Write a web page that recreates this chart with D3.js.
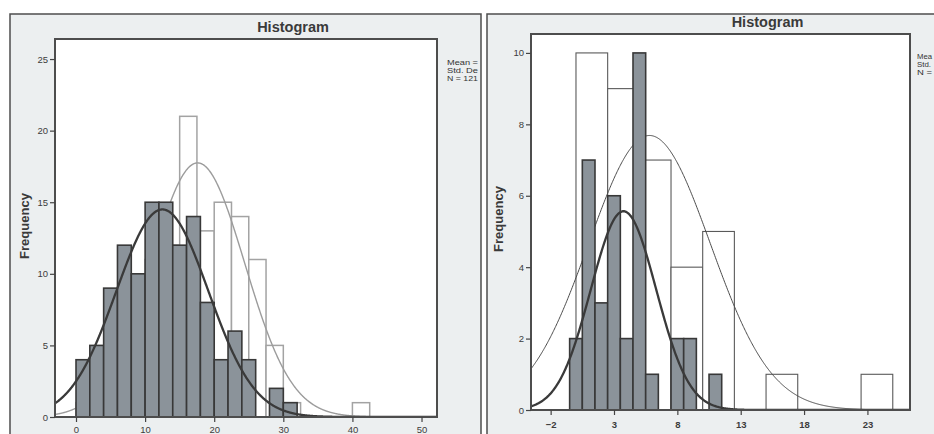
<!DOCTYPE html>
<html>
<head>
<meta charset="utf-8">
<script src="https://cdn.jsdelivr.net/npm/d3@7"></script>
<style>
  body { margin: 0; background: #fff; }
  svg text { font-family: "Liberation Sans", Arial, sans-serif; }
</style>
</head>
<body>
<div id="chart"></div>
<script>
// Left histogram: dark bins are 2 wide from 0, open bins are 2.5 wide from 0
const leftDarkStart = 0, leftDarkWidth = 2;
const leftDarkCounts = [4, 5, 9, 12, 10, 15, 15, 12, 14, 8, 4, 6, 4, 0, 2, 1];
const leftOpenStart = 0, leftOpenWidth = 2.5;
const leftOpenCounts = [1, 2, 4, 8, 11, 12, 21, 13, 15, 14, 11, 5, 1, 0, 0, 0, 1];
const leftDarkFit = { mean: 12.5, sd: 6.66, n: 121 };
const leftOpenFit = { mean: 17.6, sd: 6.8, n: 121 };
const leftXTicks = [0, 10, 20, 30, 40, 50];
const leftYTicks = [0, 5, 10, 15, 20, 25];
// only the part of the legend that shows before the frame cuts it
const leftLegend = ["Mean =", "Std. De", "N = 121"];

// Right histogram: dark bins are 1 wide centred on integers, open bins 2.5 wide from 0
const rightDarkStart = -0.5, rightDarkWidth = 1;
const rightDarkCounts = [2, 7, 3, 6, 2, 10, 1, 0, 2, 2, 0, 1];
const rightOpenStart = 0, rightOpenWidth = 2.5;
const rightOpenCounts = [10, 9, 7, 4, 5, 0, 1, 0, 0, 1];
const rightDarkFit = { mean: 3.75, sd: 2.58, n: 36 };
const rightOpenFit = { mean: 5.8, sd: 4.8, n: 37 };
const rightXTicks = [-2, 3, 8, 13, 18, 23];
const rightYTicks = [0, 2, 4, 6, 8, 10];
const rightLegend = ["Mea", "Std.", "N ="];

const width = 934, height = 434;
const svg = d3.select("#chart").append("svg")
    .attr("width", width)
    .attr("height", height);

function toBins(start, w, counts) {
    return counts.map((c, i) => ({ x0: start + i * w, x1: start + (i + 1) * w, count: c }));
}

function normalCurve(fit, binWidth, domain) {
    const k = fit.n * binWidth / (fit.sd * Math.sqrt(2 * Math.PI));
    return d3.range(domain[0], domain[1] + 0.05, 0.05)
        .map(v => [v, k * Math.exp(-0.5 * ((v - fit.mean) / fit.sd) ** 2)]);
}

function drawPanel(p) {
    const g = svg.append("g");

    // outer grey frame
    g.append("rect")
        .attr("x", p.frame[0]).attr("y", p.frame[1])
        .attr("width", p.frame[2]).attr("height", p.frame[3])
        .attr("fill", "#eceff0")
        .attr("stroke", "#4d4d4d")
        .attr("stroke-width", 1.5);

    const x = d3.scaleLinear().domain(p.xDomain).range([p.plot.left, p.plot.right]);
    const y = d3.scaleLinear().domain(p.yDomain).range([p.plot.bottom, p.plot.top]);

    g.append("rect")
        .attr("x", p.plot.left).attr("y", p.plot.top)
        .attr("width", p.plot.right - p.plot.left)
        .attr("height", p.plot.bottom - p.plot.top)
        .attr("fill", "#fff");

    const clipId = "clip" + p.id;
    svg.append("clipPath").attr("id", clipId)
        .append("rect")
        .attr("x", p.plot.left).attr("y", p.plot.top)
        .attr("width", p.plot.right - p.plot.left)
        .attr("height", p.plot.bottom - p.plot.top);

    const inner = g.append("g").attr("clip-path", `url(#${clipId})`);
    const line = d3.line().x(d => x(d[0])).y(d => y(d[1]));

    // open (outlined) histogram and its curve sit behind
    inner.selectAll("rect.open")
        .data(toBins(p.openStart, p.openWidth, p.openCounts).filter(d => d.count > 0))
        .join("rect")
        .attr("class", "open")
        .attr("x", d => x(d.x0))
        .attr("y", d => y(d.count))
        .attr("width", d => x(d.x1) - x(d.x0))
        .attr("height", d => y(0) - y(d.count))
        .attr("fill", "#fff")
        .attr("stroke", p.openStroke)
        .attr("stroke-width", p.openStrokeWidth);

    inner.append("path")
        .attr("d", line(normalCurve(p.openFit, p.openWidth, p.xDomain)))
        .attr("fill", "none")
        .attr("stroke", p.openCurveColor)
        .attr("stroke-width", p.openCurveWidth);

    // filled histogram in front
    inner.selectAll("rect.dark")
        .data(toBins(p.darkStart, p.darkWidth, p.darkCounts).filter(d => d.count > 0))
        .join("rect")
        .attr("class", "dark")
        .attr("x", d => x(d.x0))
        .attr("y", d => y(d.count))
        .attr("width", d => x(d.x1) - x(d.x0))
        .attr("height", d => y(0) - y(d.count))
        .attr("fill", "#8b939a")
        .attr("stroke", "#383838")
        .attr("stroke-width", 1.6);

    inner.append("path")
        .attr("d", line(normalCurve(p.darkFit, p.darkWidth, p.xDomain)))
        .attr("fill", "none")
        .attr("stroke", "#3a3a3a")
        .attr("stroke-width", 2.3);

    // plot border
    g.append("rect")
        .attr("x", p.plot.left).attr("y", p.plot.top)
        .attr("width", p.plot.right - p.plot.left)
        .attr("height", p.plot.bottom - p.plot.top)
        .attr("fill", "none")
        .attr("stroke", "#4d4d4d")
        .attr("stroke-width", 2);

    const yAxis = g.append("g")
        .attr("transform", `translate(${p.plot.left},0)`)
        .call(d3.axisLeft(y).tickValues(p.yTicks).tickSize(5).tickSizeOuter(0).tickPadding(2));
    const xAxis = g.append("g")
        .attr("transform", `translate(0,${p.plot.bottom})`)
        .call(d3.axisBottom(x).tickValues(p.xTicks).tickSize(5).tickSizeOuter(0).tickPadding(p.xPad));

    [yAxis, xAxis].forEach(a => {
        a.select(".domain").remove();
        a.selectAll("line").attr("stroke", "#444").attr("stroke-width", 1.2);
        a.selectAll("text")
            .attr("font-family", "Liberation Sans, Arial, sans-serif")
            .attr("font-size", 9.5)
            .attr("fill", "#3c3c3c");
    });
    xAxis.selectAll("text").attr("font-weight", p.xBold ? "bold" : "normal");

    g.append("text")
        .attr("x", (p.plot.left + p.plot.right) / 2 + 47)
        .attr("y", p.titleY)
        .attr("text-anchor", "middle")
        .attr("font-size", 14.5)
        .attr("font-weight", "bold")
        .attr("fill", "#3a3a3a")
        .text("Histogram");

    g.append("text")
        .attr("transform", `translate(${p.yLabelX},${p.yLabelY}) rotate(-90)`)
        .attr("text-anchor", "middle")
        .attr("font-size", 13)
        .attr("font-weight", "bold")
        .attr("fill", "#3a3a3a")
        .text("Frequency");

    g.append("g")
        .selectAll("text")
        .data(p.legendLines)
        .join("text")
        .attr("x", p.legend.x)
        .attr("y", (d, i) => p.legend.y + i * 8)
        .attr("font-size", 7)
        .attr("textLength", (d, i) => p.legend.widths[i])
        .attr("lengthAdjust", "spacingAndGlyphs")
        .attr("fill", "#333")
        .text(d => d);
}

drawPanel({
    id: "L",
    frame: [10, 14, 471, 440],
    plot: { left: 55, right: 437, top: 39, bottom: 417 },
    xDomain: [-3.04, 52.24],
    yDomain: [0, 26.4],
    darkStart: leftDarkStart, darkWidth: leftDarkWidth, darkCounts: leftDarkCounts,
    openStart: leftOpenStart, openWidth: leftOpenWidth, openCounts: leftOpenCounts,
    darkFit: leftDarkFit, openFit: leftOpenFit,
    openStroke: "#a3a3a3", openStrokeWidth: 1.5,
    openCurveColor: "#9c9c9c", openCurveWidth: 1.4,
    xTicks: leftXTicks, yTicks: leftYTicks, xPad: 4, xBold: false,
    titleY: 32, yLabelX: 29, yLabelY: 226,
    legend: { x: 447, y: 65, widths: [31, 31, 31] },
    legendLines: leftLegend
});

drawPanel({
    id: "R",
    frame: [487, 14, 470, 440],
    plot: { left: 531, right: 910, top: 34, bottom: 410 },
    xDomain: [-3.55, 26.36],
    yDomain: [0, 10.53],
    darkStart: rightDarkStart, darkWidth: rightDarkWidth, darkCounts: rightDarkCounts,
    openStart: rightOpenStart, openWidth: rightOpenWidth, openCounts: rightOpenCounts,
    darkFit: rightDarkFit, openFit: rightOpenFit,
    openStroke: "#5a5a5a", openStrokeWidth: 1.1,
    openCurveColor: "#4a4a4a", openCurveWidth: 1,
    xTicks: rightXTicks, yTicks: rightYTicks, xPad: 6, xBold: true,
    titleY: 27, yLabelX: 503, yLabelY: 219,
    legend: { x: 917, y: 59, widths: [15, 14, 15] },
    legendLines: rightLegend
});
</script>
</body>
</html>
